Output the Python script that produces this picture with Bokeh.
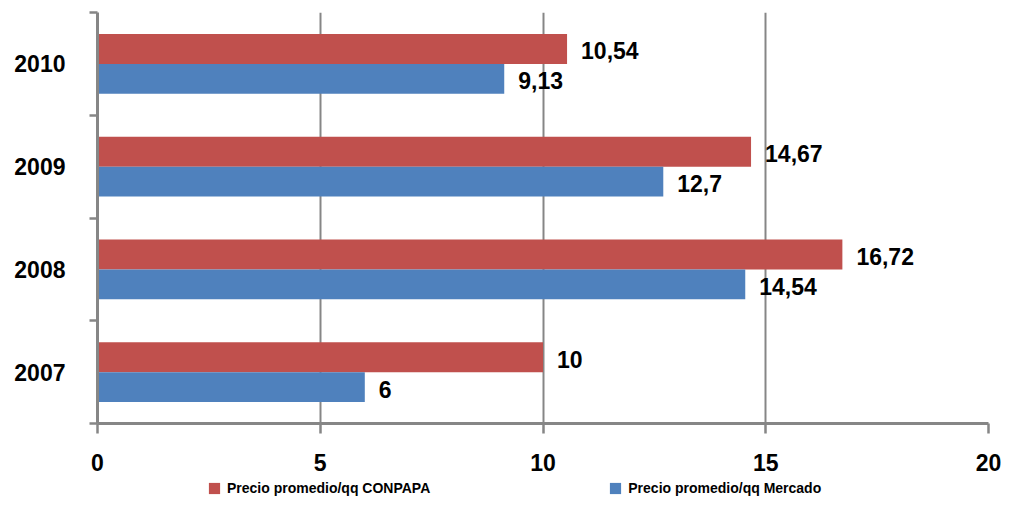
from bokeh.plotting import figure
from bokeh.layouts import column
from bokeh.models import (ColumnDataSource, Range1d, FixedTicker, Legend, LegendItem)
from bokeh.core.properties import value
from bokeh.embed import file_html
from bokeh.resources import INLINE

# Average price per quintal, by year
years = ["2007", "2008", "2009", "2010"]
conpapa = [10, 16.72, 14.67, 10.54]
mercado = [6, 14.54, 12.7, 9.13]
x_ticks = [0, 5, 10, 15, 20]

series_names = ["Precio promedio/qq CONPAPA", "Precio promedio/qq Mercado"]
RED = "#C0504D"
BLUE = "#4F81BD"
GRAY = "#868686"
FONT = "Liberation Sans"


def fmt(v):
    return f"{v:g}".replace(".", ",")


centers = [i + 0.5 for i in range(len(years))]
offset = 0.145
bar_h = 0.29

src_c = ColumnDataSource(dict(y=[c + offset for c in centers], v=conpapa,
                              lab=[fmt(v) for v in conpapa]))
src_m = ColumnDataSource(dict(y=[c - offset for c in centers], v=mercado,
                              lab=[fmt(v) for v in mercado]))

p = figure(width=1015, height=480, output_backend="svg", toolbar_location=None,
           x_range=Range1d(0, 20), y_range=Range1d(0, len(years)),
           min_border_left=97, min_border_right=27, min_border_top=12,
           min_border_bottom=57)
p.outline_line_color = None

p.hbar(y="y", right="v", left=0, height=bar_h, source=src_c,
       fill_color=RED, line_color=None)
p.hbar(y="y", right="v", left=0, height=bar_h, source=src_m,
       fill_color=BLUE, line_color=None)

for src in (src_c, src_m):
    p.text(x="v", y="y", text="lab", source=src, x_offset=14, y_offset=2,
           text_baseline="middle", text_align="left",
           text_font=value(FONT), text_font_style="bold",
           text_font_size="23px", text_color="black")

# x axis
xa = p.xaxis[0]
xa.ticker = FixedTicker(ticks=x_ticks)
xa.axis_line_color = GRAY
xa.axis_line_width = 3
xa.major_tick_line_color = GRAY
xa.major_tick_line_width = 2.5
xa.major_tick_out = 10
xa.major_tick_in = 0
xa.minor_tick_line_color = None
xa.major_label_text_font = FONT
xa.major_label_text_font_style = "bold"
xa.major_label_text_font_size = "23px"
xa.major_label_text_color = "black"
xa.major_label_standoff = 20

# y axis: labels at category centres, ticks at category boundaries
ya = p.yaxis[0]
ya.ticker = FixedTicker(ticks=centers, minor_ticks=list(range(len(years) + 1)))
ya.major_label_overrides = {c: y for c, y in zip(centers, years)}
ya.axis_line_color = GRAY
ya.axis_line_width = 3
ya.major_tick_line_color = None
ya.major_tick_out = 0
ya.major_tick_in = 0
ya.minor_tick_line_color = GRAY
ya.minor_tick_line_width = 2.5
ya.minor_tick_out = 8
ya.minor_tick_in = 0
ya.major_label_text_font = FONT
ya.major_label_text_font_style = "bold"
ya.major_label_text_font_size = "23px"
ya.major_label_text_color = "black"
ya.major_label_standoff = 24

p.xgrid.ticker = FixedTicker(ticks=x_ticks[1:])
p.xgrid.grid_line_color = GRAY
p.xgrid.grid_line_width = 2
p.ygrid.grid_line_color = None

# legend strip underneath the chart (its frame lines up with the chart's);
# the swatch renderers sit outside the strip's ranges so only the key shows
key = figure(width=1015, height=28, output_backend="svg", toolbar_location=None,
             x_axis_type=None, y_axis_type=None, min_border=0,
             x_range=Range1d(0, 1), y_range=Range1d(0, 1))
key.outline_line_color = None
key.grid.grid_line_color = None
sw_c = key.quad(left=[5], right=[6], top=[6], bottom=[5],
                fill_color=RED, line_color=None)
sw_m = key.quad(left=[5], right=[6], top=[6], bottom=[5],
                fill_color=BLUE, line_color=None)

legend = Legend(items=[LegendItem(label=series_names[0], renderers=[sw_c]),
                       LegendItem(label=series_names[1], renderers=[sw_m])],
                orientation="horizontal", location=(110, 12),
                padding=0, margin=0, spacing=178,
                glyph_width=14, glyph_height=14, label_height=14,
                label_standoff=6, border_line_color=None,
                background_fill_alpha=0,
                label_text_font=FONT, label_text_font_style="bold",
                label_text_font_size="14px", label_text_color="black")
key.add_layout(legend)

open("out.html", "w").write(file_html(column(p, key, spacing=0), INLINE))
